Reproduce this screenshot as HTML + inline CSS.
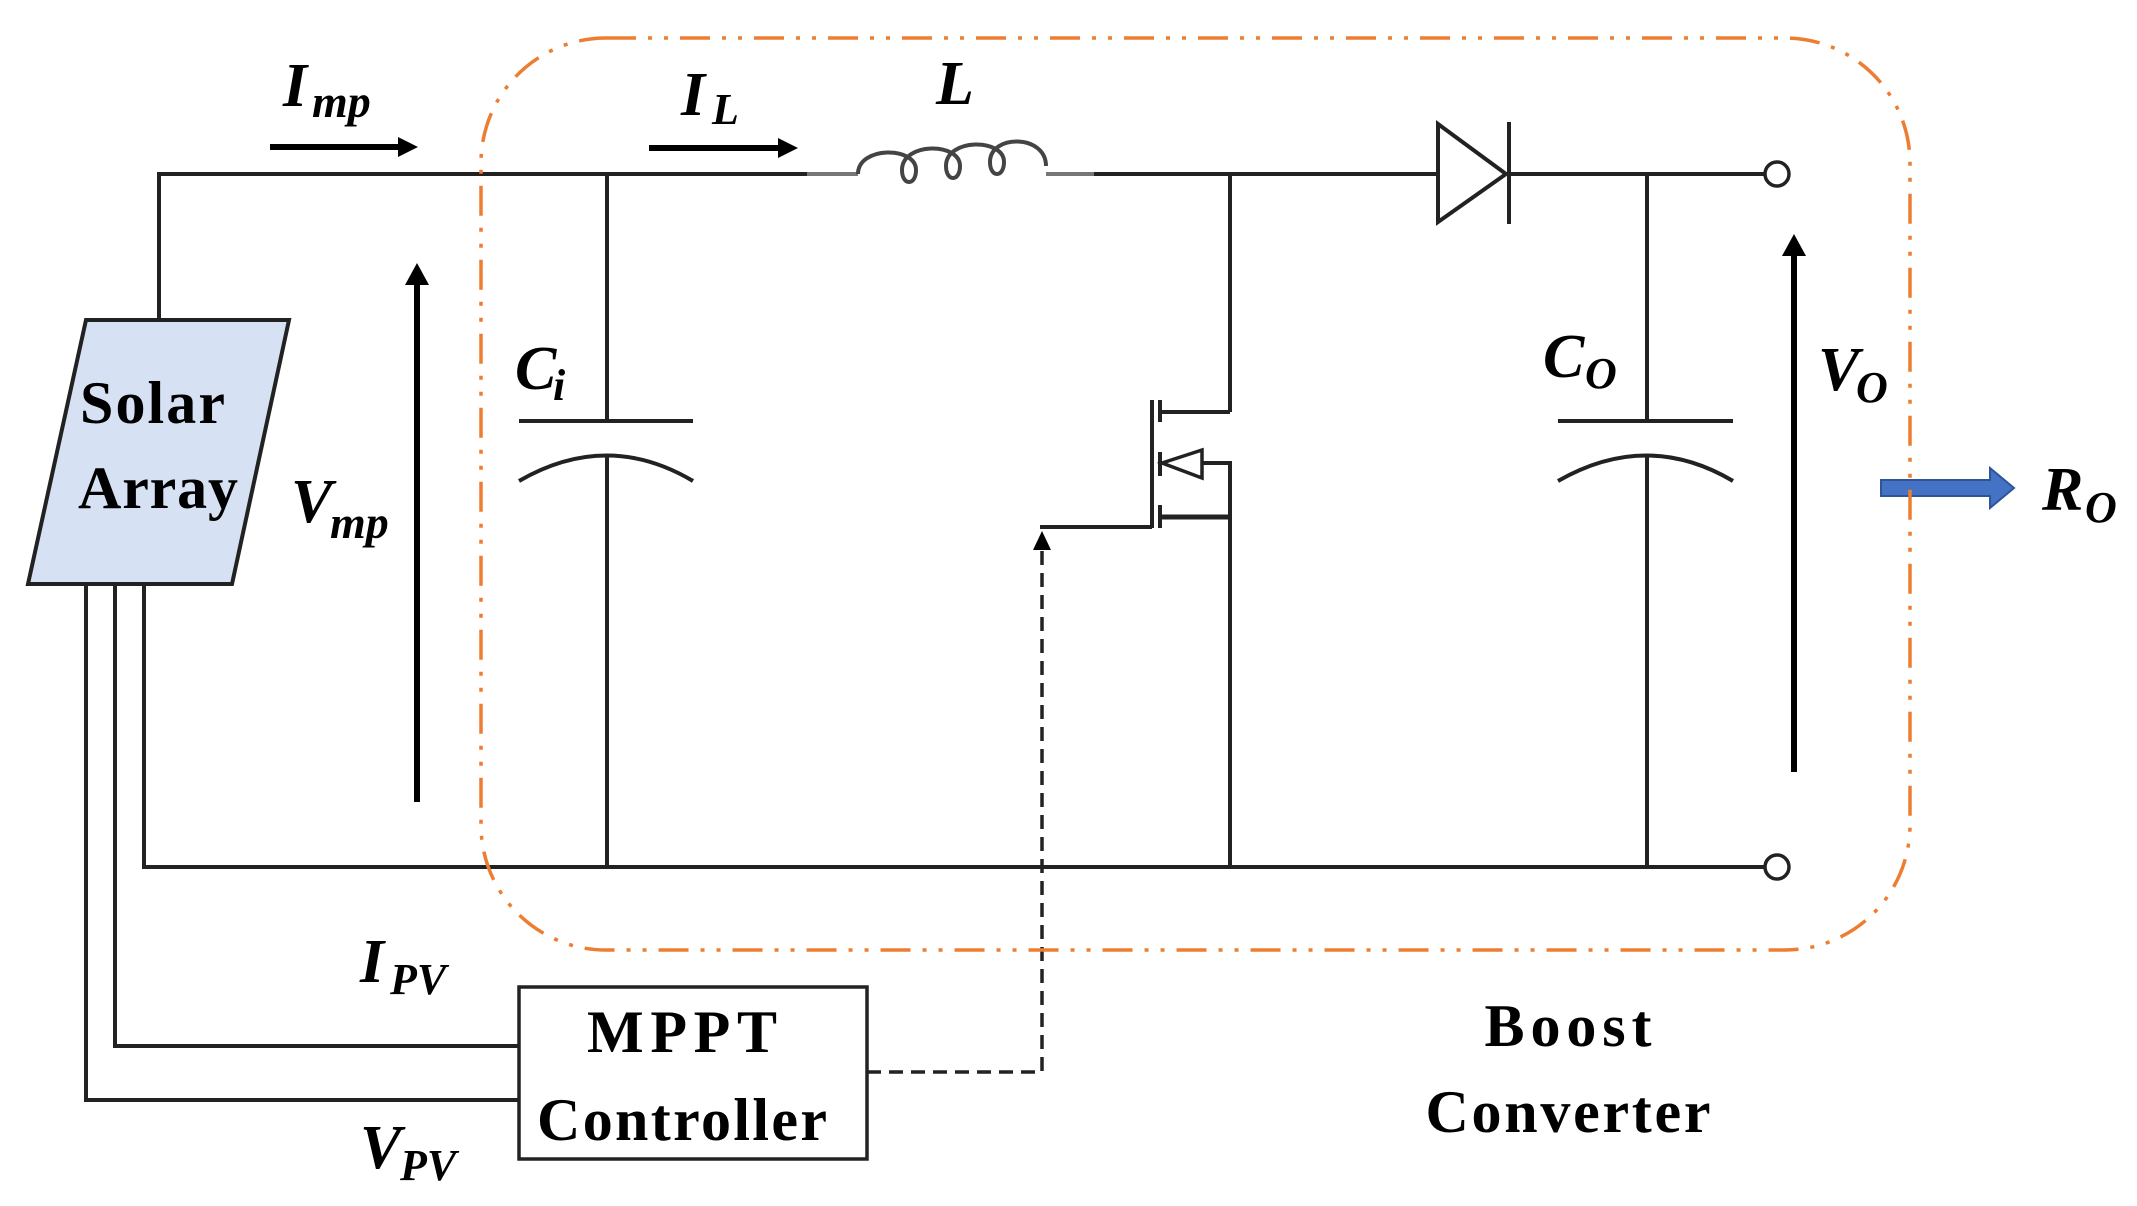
<!DOCTYPE html>
<html><head><meta charset="utf-8"><style>html,body{margin:0;padding:0;background:#fff}svg{display:block}</style></head><body>
<svg width="2137" height="1206" viewBox="0 0 2137 1206" xmlns="http://www.w3.org/2000/svg">
<g fill="none" stroke="#222" stroke-width="4">
<polyline points="159,320 159,174 807,174"/>
<line x1="807" y1="174" x2="858" y2="174" stroke="#777"/>
<path d="M858,174 c0,-28 58,-28 58,-4 c0,16 -14,16 -14,0 c0,-28 58,-28 58,-4 c0,16 -14,16 -14,0 c0,-28 58,-28 58,-4 c0,16 -14,16 -14,0 c0,-28 56,-28 56,4" stroke="#444" stroke-width="4"/>
<line x1="1046" y1="174" x2="1094" y2="174" stroke="#777"/>
<line x1="1094" y1="174" x2="1438" y2="174"/>
<polygon points="1438,124 1438,222 1506,174" stroke-width="4"/>
<line x1="1509" y1="122" x2="1509" y2="224"/>
<line x1="1509" y1="174" x2="1765" y2="174"/>
<circle cx="1777" cy="174" r="12" stroke-width="3.5" fill="#fff"/>
<polyline points="144,584 144,867 1765,867"/>
<circle cx="1777" cy="867" r="12" stroke-width="3.5" fill="#fff"/>
<line x1="607" y1="174" x2="607" y2="421"/>
<line x1="519" y1="421" x2="693" y2="421"/>
<path d="M519,481 Q607,430 693,481"/>
<line x1="607" y1="455" x2="607" y2="867"/>
<line x1="1647" y1="174" x2="1647" y2="421"/>
<line x1="1558" y1="421" x2="1733" y2="421"/>
<path d="M1558,481 Q1647,430 1733,481"/>
<line x1="1647" y1="455" x2="1647" y2="867"/>
<line x1="1230" y1="174" x2="1230" y2="412"/>
<line x1="1160" y1="412" x2="1230" y2="412"/>
<line x1="1152" y1="400" x2="1152" y2="528"/>
<line x1="1160" y1="400" x2="1160" y2="422"/>
<line x1="1160" y1="452" x2="1160" y2="476"/>
<line x1="1160" y1="505" x2="1160" y2="528"/>
<polygon points="1162,463 1202,450 1202,478" stroke-width="3.5"/>
<polyline points="1202,463 1230,463 1230,867"/>
<line x1="1160" y1="517" x2="1230" y2="517" stroke-width="5"/>
<line x1="1040" y1="527" x2="1152" y2="527"/>
<polyline points="115,584 115,1046 519,1046"/>
<polyline points="86,584 86,1100 519,1100"/>
<rect x="519" y="987" width="348" height="172" stroke-width="3.5"/>
<polyline points="867,1072 1042,1072 1042,545" stroke-dasharray="14,8" stroke-width="3.5"/>
</g>
<polygon points="1042,531 1033,550 1051,550" fill="#000"/>
<polygon points="86,320 289,320 232,584 28,584" fill="#d6e2f3" stroke="#222" stroke-width="4"/>
<g stroke="#000" stroke-width="6" fill="none">
<line x1="270" y1="147" x2="405" y2="147"/>
<line x1="649" y1="148" x2="785" y2="148"/>
<line x1="417" y1="802" x2="417" y2="280"/>
<line x1="1794" y1="772" x2="1794" y2="252"/>
</g>
<polygon points="418,147 398,137 398,157" fill="#000"/>
<polygon points="798,148 778,138 778,158" fill="#000"/>
<polygon points="417,263 405,285 429,285" fill="#000"/>
<polygon points="1794,234 1782,256 1806,256" fill="#000"/>
<polygon points="1881,480 1990,480 1990,468 2014,488 1990,508 1990,496 1881,496" fill="#4472c4" stroke="#2f5597" stroke-width="2"/>
<rect x="481" y="38" width="1429" height="912" rx="125" ry="125" fill="none" stroke="#ed7d31" stroke-width="3.5" stroke-dasharray="30,12,4,12,4,12"/>
<g font-family="'Liberation Serif', serif" font-weight="bold" fill="#000">
<text x="80" y="423" font-size="60" textLength="145">Solar</text>
<text x="78" y="508" font-size="60" textLength="160">Array</text>
<text x="682" y="1052" font-size="60" text-anchor="middle" textLength="190">MPPT</text>
<text x="682" y="1140" font-size="60" text-anchor="middle" textLength="290">Controller</text>
<text x="1568" y="1046" font-size="60" text-anchor="middle" textLength="167">Boost</text>
<text x="1568" y="1132" font-size="60" text-anchor="middle" textLength="285">Converter</text>
</g>
<g font-family="'Liberation Serif', serif" font-weight="bold" font-style="italic" fill="#000">
<text x="283" y="106" font-size="62">I</text><text x="312" y="117" font-size="46">mp</text>
<text x="681" y="115" font-size="62">I</text><text x="712" y="124" font-size="44">L</text>
<text x="936" y="104" font-size="62">L</text>
<text x="515" y="389" font-size="62">C</text><text x="553" y="400" font-size="44">i</text>
<text x="291" y="522" font-size="62">V</text><text x="330" y="538" font-size="46">mp</text>
<text x="1543" y="377" font-size="62">C</text><text x="1585" y="388" font-size="44">O</text>
<text x="1818" y="390" font-size="62">V</text><text x="1856" y="402" font-size="44">O</text>
<text x="2042" y="510" font-size="62">R</text><text x="2085" y="522" font-size="44">O</text>
<text x="360" y="982" font-size="62">I</text><text x="390" y="994" font-size="44">PV</text>
<text x="360" y="1168" font-size="62">V</text><text x="400" y="1180" font-size="44">PV</text>
</g>
</svg>
</body></html>
